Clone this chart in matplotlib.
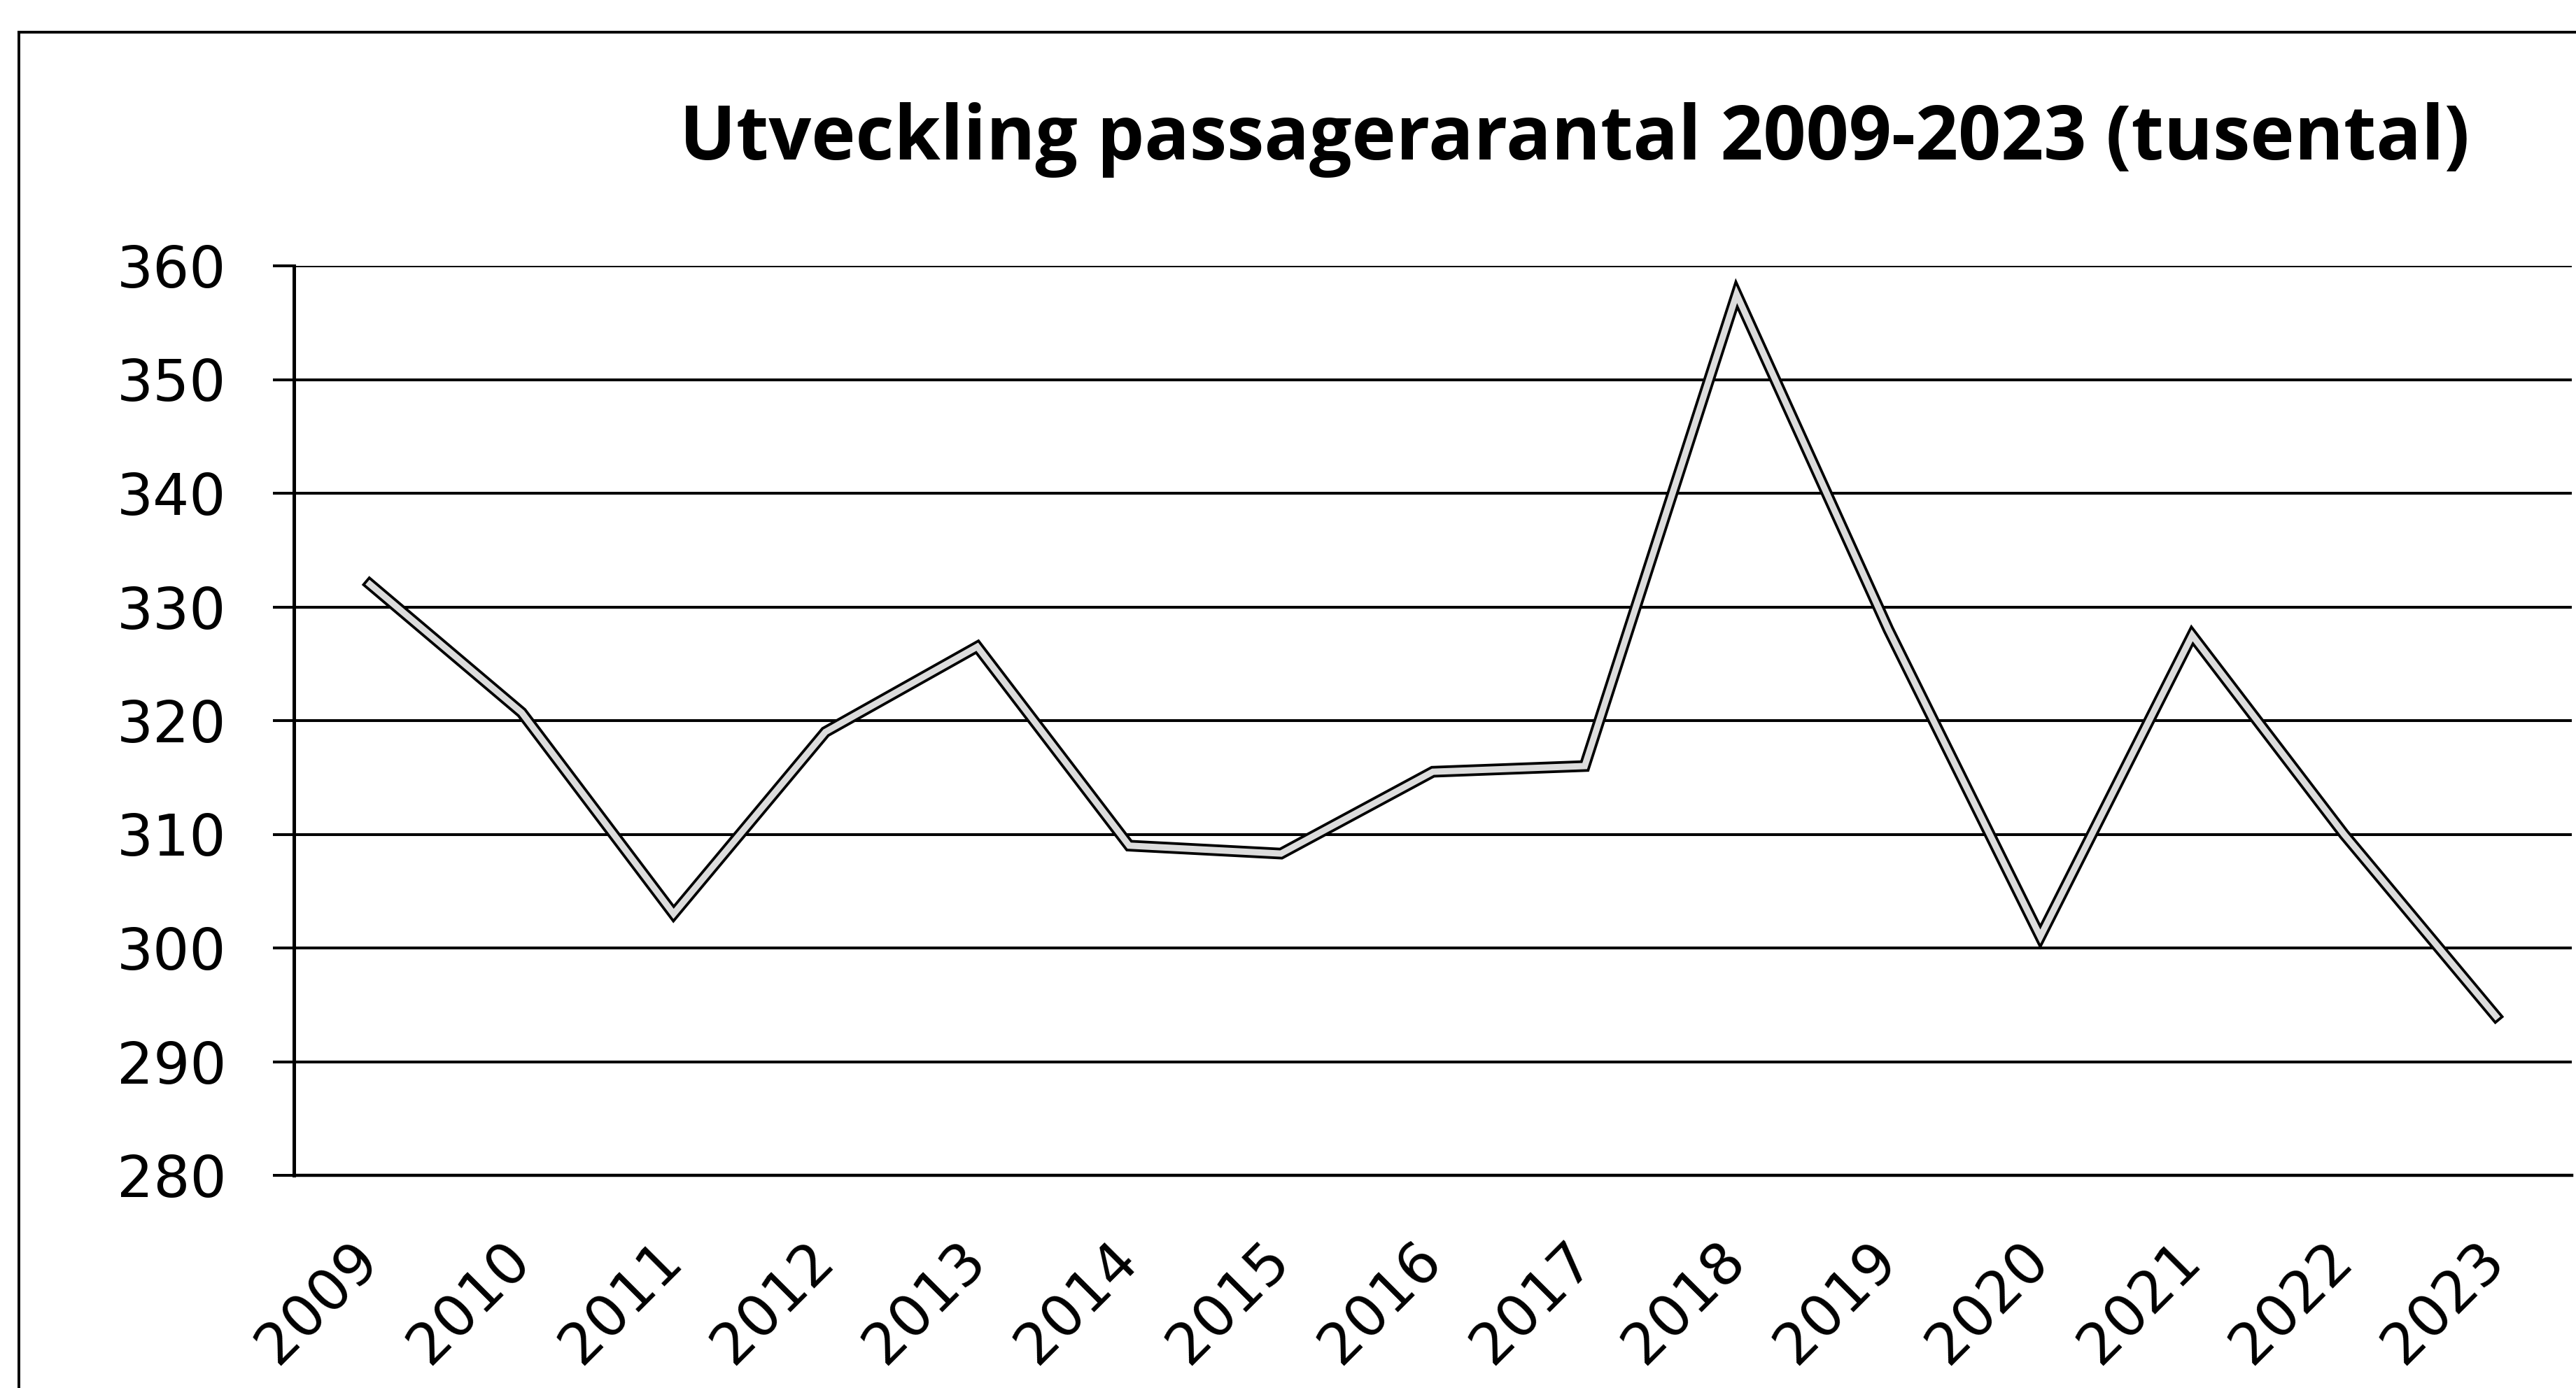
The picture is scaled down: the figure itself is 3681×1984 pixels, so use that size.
"""Utveckling passagerarantal 2009-2023 (tusental)."""

from matplotlib import pyplot as plt
from matplotlib.lines import Line2D

# * DATA

years = [str(y) for y in range(2009, 2024)]
passengers = [332, 320.7, 303, 319, 326.5, 309, 308.3, 315.5, 316, 357.5, 328, 301, 327.5, 310, 294]
y_ticks = [280, 290, 300, 310, 320, 330, 340, 350, 360]
title = "Utveckling passagerarantal 2009-2023 (tusental)"

# * FIGURE

W, H, DPI = 3681, 1984, 100
fig = plt.figure(figsize=(W / DPI, H / DPI), dpi=DPI, facecolor="white")

# Plot area in pixel units of the reference
left_px, right_px, top_px, bottom_px = 420, 3675, 380, 1680
ax = fig.add_axes(
    (left_px / W, 1 - bottom_px / H, (right_px - left_px) / W, (bottom_px - top_px) / H)
)

# Hollow line: black outline with a light core
x = list(range(len(years)))
ax.plot(x, passengers, color="black", lw=12, solid_joinstyle="miter", zorder=3)
ax.plot(x, passengers, color="#dcdcdc", lw=6.5, solid_joinstyle="miter", zorder=4)

ax.set_xlim(-0.5, len(years) - 0.5)
ax.set_ylim(y_ticks[0], y_ticks[-1])
ax.set_yticks(y_ticks)
ax.set_yticklabels([str(v) for v in y_ticks], fontsize=59, family="DejaVu Sans")
ax.set_xticks(x)
ax.set_xticklabels(
    years,
    fontsize=59,
    family="DejaVu Sans",
    rotation=45,
    ha="right",
    va="center",
    rotation_mode="anchor",
)

ax.grid(axis="y", color="black", lw=2.9)
ax.set_axisbelow(True)
ax.tick_params(axis="y", length=21.5, width=2.9, pad=48, color="black")
ax.tick_params(axis="x", length=0, pad=78)

for side in ("top", "right"):
    ax.spines[side].set_visible(False)
ax.spines["left"].set_linewidth(3.6)
ax.spines["bottom"].set_linewidth(3.2)

# Title
fig.text(
    2250 / W,
    1 - 228 / H,
    title,
    ha="center",
    va="baseline",
    fontsize=77,
    fontweight="bold",
    family="Open Sans",
)

# Outer chart frame (only left and top edges are inside the picture)
fig.add_artist(Line2D([27 / W, 27 / W], [0, 1 - 46 / H], color="black", lw=2.8,
                      transform=fig.transFigure))
fig.add_artist(Line2D([27 / W, 1], [1 - 46 / H, 1 - 46 / H], color="black", lw=2.8,
                      transform=fig.transFigure))

fig.savefig("out.png", dpi=DPI, facecolor="white")
